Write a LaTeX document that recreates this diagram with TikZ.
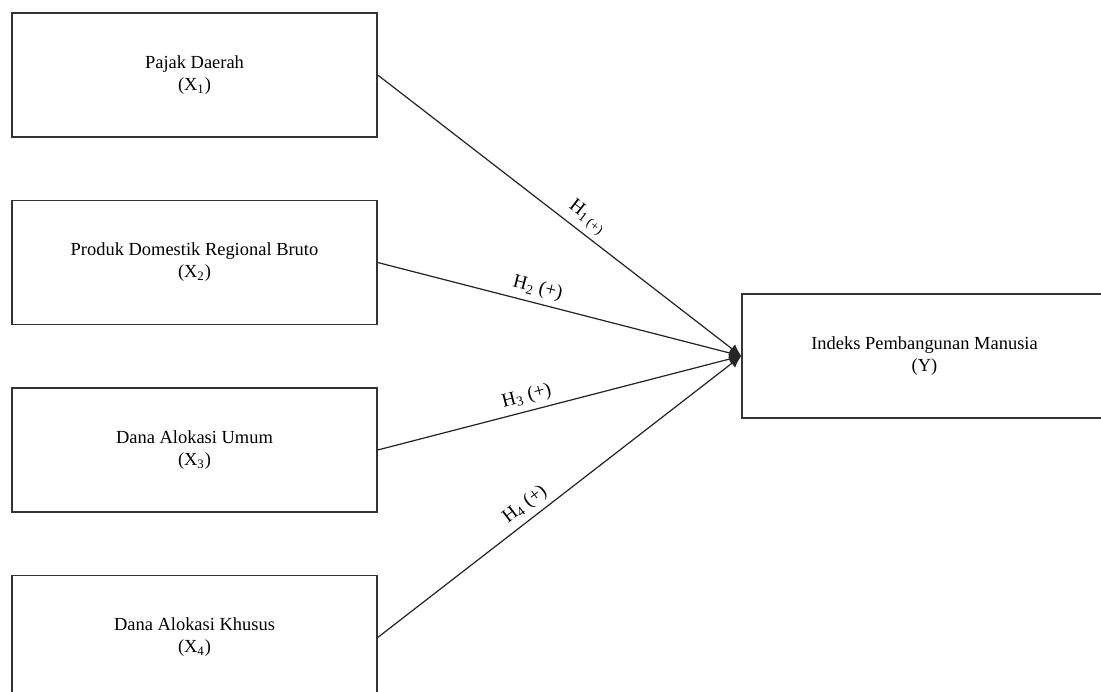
\documentclass[tikz,border=0pt]{standalone}
\usepackage{fontspec}
\setmainfont{Liberation Serif}
\usepackage{tikz}
\usetikzlibrary{arrows.meta, positioning}

\begin{document}
\begin{tikzpicture}[
    varbox/.style={rectangle, draw=black!80, line width=0.8pt, minimum width=7.3cm, minimum height=2.48cm, align=center, font=\fontsize{10.5}{12.5}\selectfont},
    hypo/.style={draw=black!85, line width=0.7pt, -{Latex[length=2.4mm, width=2.2mm]}},
    hlabel/.style={sloped, above, inner sep=3pt, font=\fontsize{11}{13}\selectfont}
]
    \useasboundingbox (0,0) rectangle (22.02,13.82);

    \node[varbox] (x1) at (3.89, 12.32) {Pajak Daerah\\(X\textsubscript{1})};
    \node[varbox] (x2) at (3.89, 8.57) {Produk Domestik Regional Bruto\\(X\textsubscript{2})};
    \node[varbox] (x3) at (3.89, 4.82) {Dana Alokasi Umum\\(X\textsubscript{3})};
    \node[varbox] (x4) at (3.89, 1.07) {Dana Alokasi Khusus\\(X\textsubscript{4})};

    \node[varbox] (y) at (18.49, 6.70) {Indeks Pembangunan Manusia\\(Y)};

    \draw[hypo] (x1.east) -- node[hlabel, pos=0.55] {H\textsubscript{1 (+)}} (y.west);
    \draw[hypo] (x2.east) -- node[hlabel, pos=0.43] {H\textsubscript{2} (+)} (y.west);
    \draw[hypo] (x3.east) -- node[hlabel, pos=0.42] {H\textsubscript{3} (+)} (y.west);
    \draw[hypo] (x4.east) -- node[hlabel, pos=0.43] {H\textsubscript{4} (+)} (y.west);
\end{tikzpicture}
\end{document}
